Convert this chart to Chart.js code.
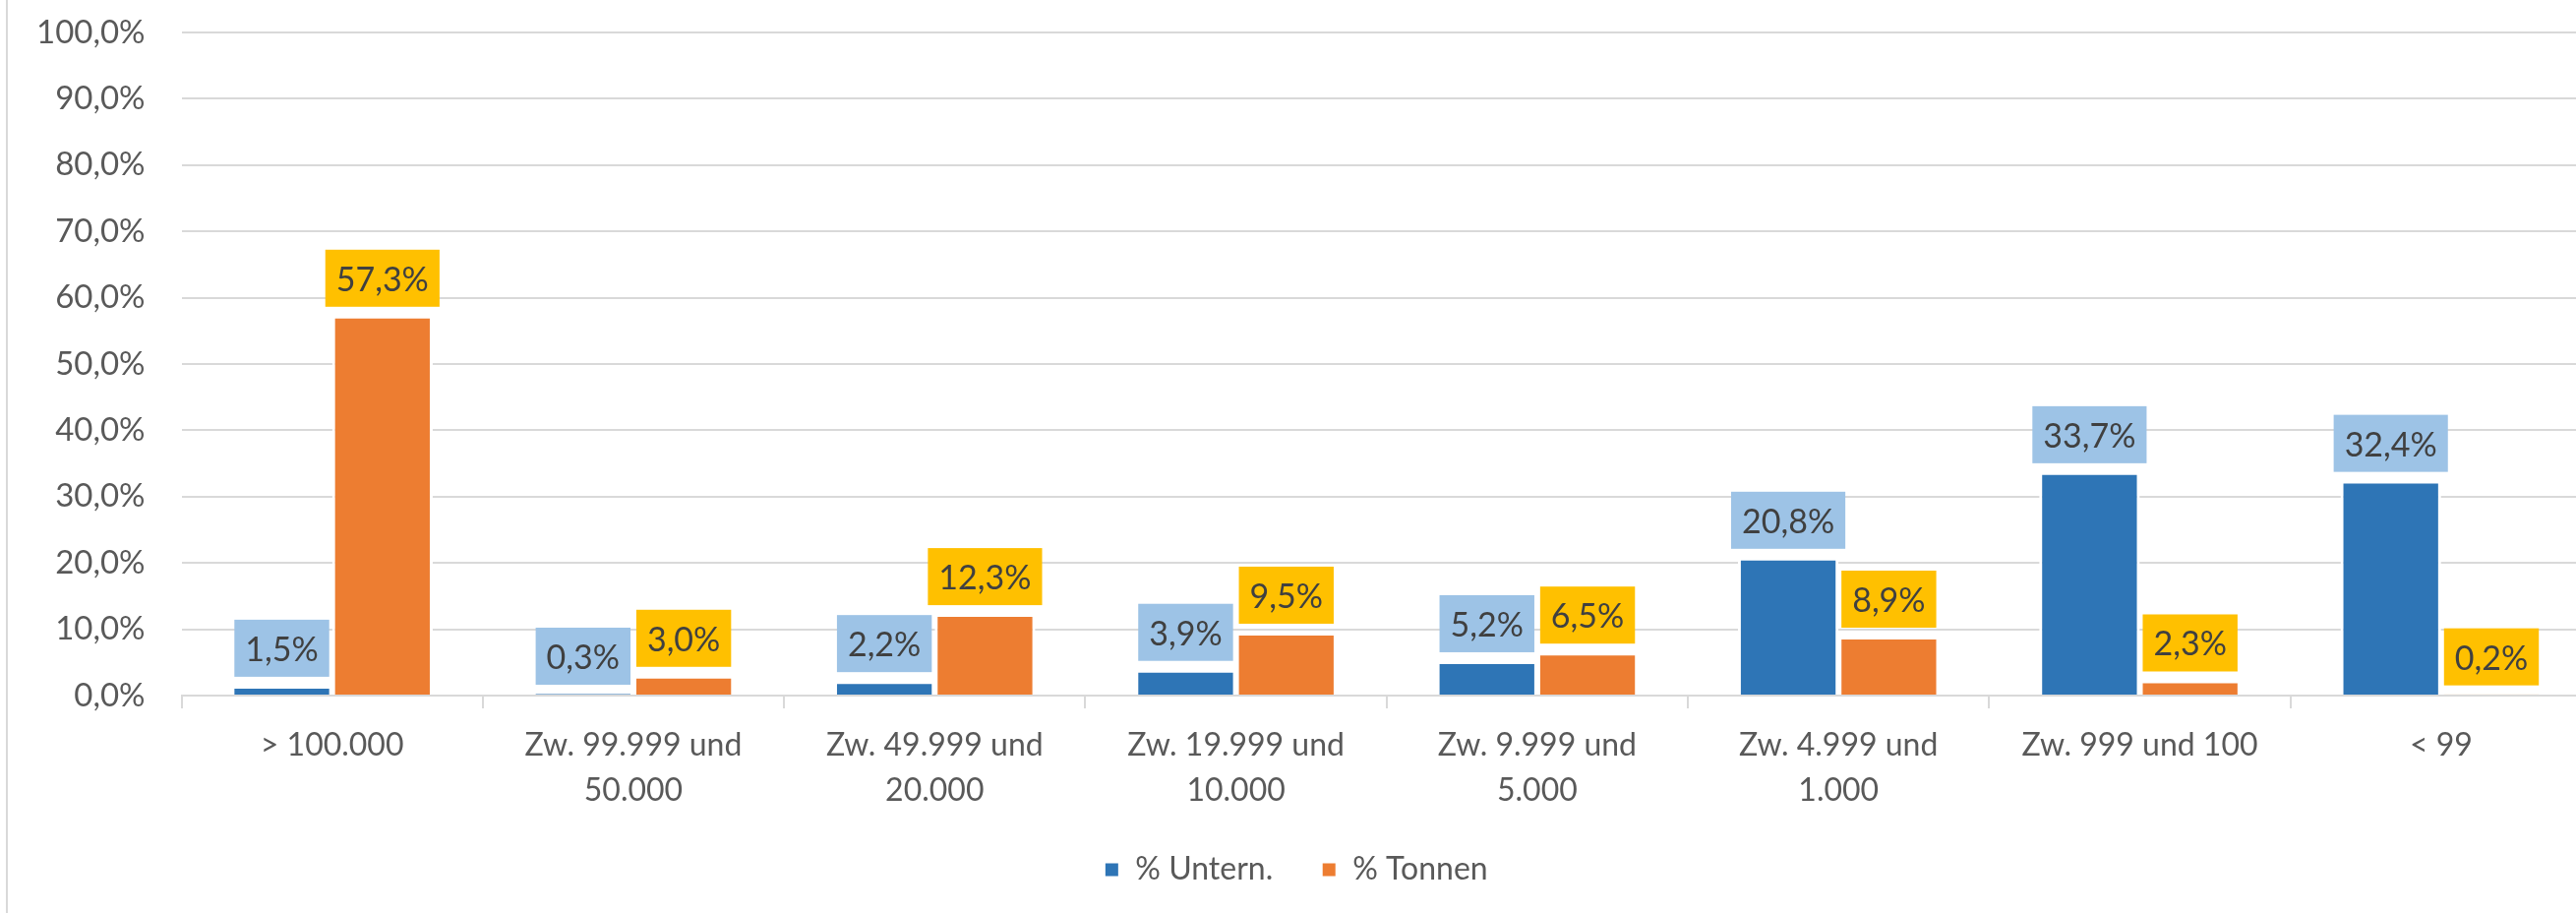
<!DOCTYPE html>
<html>
<head>
<meta charset="utf-8">
<script src="https://cdn.jsdelivr.net/npm/chart.js@4.4.1/dist/chart.umd.min.js"></script>
<style>
  body { margin: 0; background: #fff; overflow: hidden; }
  #wrap { position: relative; width: 2636px; height: 928px; }
  #edge { position: absolute; left: 6px; top: 0; width: 2px; height: 928px; background: #d9d9d9; }
</style>
</head>
<body>
<div id="wrap">
  <div id="edge"></div>
  <canvas id="sizeChart"></canvas>
</div>
<script>
// Categories (company size in tonnes)
const categories = [
  "> 100.000",
  ["Zw. 99.999 und", "50.000"],
  ["Zw. 49.999 und", "20.000"],
  ["Zw. 19.999 und", "10.000"],
  ["Zw. 9.999 und", "5.000"],
  ["Zw. 4.999 und", "1.000"],
  "Zw. 999 und 100",
  "< 99"
];
const seriesNames = ["% Untern.", "% Tonnen"];
const untern = [1.5, 0.3, 2.2, 3.9, 5.2, 20.8, 33.7, 32.4];
const tonnen = [57.3, 3.0, 12.3, 9.5, 6.5, 8.9, 2.3, 0.2];
const yTicks = [0, 10, 20, 30, 40, 50, 60, 70, 80, 90, 100];

const barColors = ["#2e75b6", "#ed7d31"];
const labelBg = ["#9dc3e6", "#ffc000"];

function fmt(v) {
  return v.toFixed(1).replace(".", ",") + "%";
}

// draws the value boxes above each bar
const valueBoxes = {
  id: "valueBoxes",
  afterDatasetsDraw(chart) {
    const ctx = chart.ctx;
    ctx.save();
    ctx.font = "34px Lato";
    ctx.textAlign = "center";
    ctx.textBaseline = "middle";
    chart.data.datasets.forEach((ds, i) => {
      chart.getDatasetMeta(i).data.forEach((bar, j) => {
        const txt = fmt(ds.data[j]);
        const w = ctx.measureText(txt).width + 22;
        const h = 58;
        const bottom = bar.y - 9;
        ctx.fillStyle = labelBg[i];
        ctx.fillRect(bar.x - w / 2, bottom - h, w, h);
        ctx.fillStyle = "#404040";
        ctx.fillText(txt, bar.x, bottom - h / 2 + 2);
      });
    });
    ctx.restore();
  }
};

const ctx = document.getElementById("sizeChart").getContext("2d");
new Chart(ctx, {
  type: "bar",
  data: {
    labels: categories,
    datasets: [
      {
        label: seriesNames[0],
        data: untern,
        backgroundColor: barColors[0],
        borderColor: "#ffffff",
        borderWidth: 3,
        borderSkipped: "start",
      },
      {
        label: seriesNames[1],
        data: tonnen,
        backgroundColor: barColors[1],
        borderColor: "#ffffff",
        borderWidth: 3,
        borderSkipped: "start",
      },
    ],
  },
  options: {
    responsive: true,
    maintainAspectRatio: false,
    animation: false,
    layout: {
      padding: { left: 0, top: 33, right: 1, bottom: 18 },
    },
    datasets: {
      bar: {
        categoryPercentage: 0.668,
        barPercentage: 1.0,
      },
    },
    scales: {
      x: {
        grid: {
          offset: true,
          drawOnChartArea: false,
          tickLength: 13,
          color: "#d9d9d9",
          lineWidth: 2,
        },
        border: { color: "#d9d9d9", width: 2 },
        ticks: {
          color: "#595959",
          font: { family: "Lato", size: 32, lineHeight: 1.45 },
          padding: 14,
          maxRotation: 0,
          autoSkip: false,
        },
        afterFit(scale) {
          scale.height = 112;
          scale.paddingLeft = 0;
          scale.paddingRight = 0;
        },
      },
      y: {
        min: 0,
        max: 100,
        afterBuildTicks(scale) {
          scale.ticks = yTicks.map((v) => ({ value: v }));
        },
        afterFit(scale) {
          scale.paddingTop = 0;
          scale.paddingBottom = 0;
        },
        grid: { color: "#d9d9d9", lineWidth: 2, drawTicks: false },
        border: { display: false },
        ticks: {
          color: "#595959",
          font: { family: "Lato", size: 33 },
          padding: 37,
          callback: (v) => fmt(v),
        },
      },
    },
    plugins: {
      legend: {
        position: "bottom",
        labels: {
          color: "#595959",
          font: { family: "Lato", size: 32 },
          boxWidth: 16,
          boxHeight: 16,
          padding: 49,
        },
      },
      tooltip: { enabled: false },
    },
  },
  plugins: [valueBoxes],
});
</script>
</body>
</html>
